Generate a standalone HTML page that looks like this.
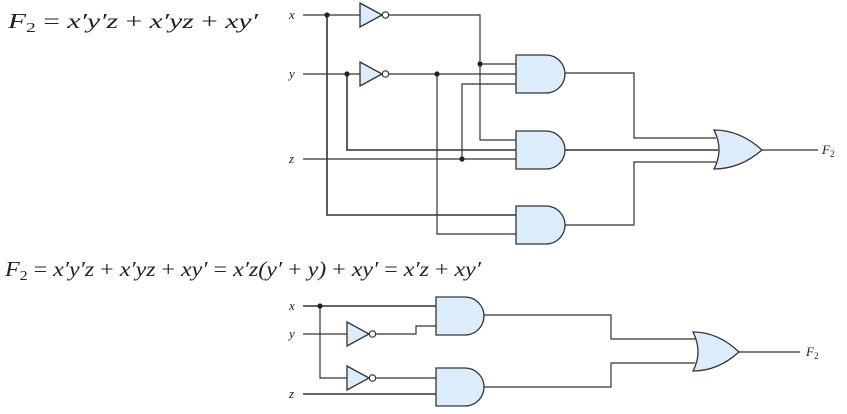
<!DOCTYPE html>
<html><head><meta charset="utf-8"><style>
html,body{margin:0;padding:0;background:#fff;}
svg{display:block;}
text{font-family:"Liberation Serif",serif;font-style:italic;fill:#222;}
</style></head><body>
<svg width="847" height="414" viewBox="0 0 847 414" xmlns="http://www.w3.org/2000/svg">
<defs>
<g id="not"><path d="M0,-12 L22,0 L0,12 Z" fill="#dcecfa" stroke="#333" stroke-width="1.3"/><circle cx="25.5" cy="0" r="3.2" fill="#fff" stroke="#333" stroke-width="1.2"/></g>
</defs>
<text x="8" y="28" font-size="21" textLength="250" lengthAdjust="spacingAndGlyphs">F<tspan font-size="14" dy="4" font-style="normal">2</tspan><tspan dy="-4" font-style="normal"> = </tspan>x′y′z <tspan font-style="normal">+</tspan> x′yz <tspan font-style="normal">+</tspan> xy′</text>
<text x="5" y="276" font-size="21" textLength="476" lengthAdjust="spacingAndGlyphs">F<tspan font-size="14" dy="4" font-style="normal">2</tspan><tspan dy="-4" font-style="normal"> = </tspan>x′y′z <tspan font-style="normal">+</tspan> x′yz <tspan font-style="normal">+</tspan> xy′ <tspan font-style="normal">=</tspan> x′z(y′ <tspan font-style="normal">+</tspan> y) <tspan font-style="normal">+</tspan> xy′ <tspan font-style="normal">=</tspan> x′z <tspan font-style="normal">+</tspan> xy′</text>

<g font-size="13">
<text x="289" y="19">x</text><text x="289" y="78">y</text><text x="289" y="163">z</text>
<text x="822" y="154">F<tspan font-size="9" dy="3" font-style="normal">2</tspan></text>
<text x="289" y="310">x</text><text x="289" y="338">y</text><text x="289" y="398">z</text>
<text x="806" y="356">F<tspan font-size="9" dy="3" font-style="normal">2</tspan></text>
</g>

<g fill="none" stroke="#333" stroke-width="1.2">
<!-- top circuit wires -->
<path d="M303,15 H360"/><path d="M389,15 H480 V140 H516"/><path d="M480,64 H516"/>
<path d="M303,74 H360"/><path d="M389,74 H516"/>
<path d="M303,159 H516"/><path d="M462,159 V84 H516"/>
<path d="M327,15 V215 H516" stroke-width="1.6"/>
<path d="M347,74 V150 H516" stroke-width="1.6"/>
<path d="M437,74 V234 H516"/>
<path d="M565,73 H634 V138 H716"/>
<path d="M565,150 H718" stroke-width="1.6"/>
<path d="M565,225 H634 V162 H716"/>
<path d="M762,150 H818"/>
<!-- bottom circuit wires -->
<path d="M303,306 H436" stroke-width="1.6"/>
<path d="M303,334 H347"/><path d="M375,334 H416 V326 H436"/>
<path d="M320,306 V378 H347"/><path d="M375,378 H436"/>
<path d="M303,394 H436" stroke-width="1.5"/>
<path d="M484,315 H611 V339 H695"/>
<path d="M484,387 H611 V363 H695"/>
<path d="M739,352 H800"/>
</g>
<g fill="#222">
<circle cx="327" cy="15" r="2.6"/><circle cx="480" cy="64" r="2.6"/><circle cx="347" cy="74" r="2.6"/>
<circle cx="437" cy="74" r="2.6"/><circle cx="462" cy="159" r="2.6"/><circle cx="320" cy="306" r="2.6"/>
</g>
<!-- inverters -->
<use href="#not" x="360" y="15"/><use href="#not" x="360" y="74"/>
<use href="#not" x="347" y="334"/><use href="#not" x="347" y="378"/>
<!-- AND gates -->
<g fill="#dcecfa" stroke="#333" stroke-width="1.3">
<path d="M516,55 H546 A19,19 0 0 1 546,93 H516 Z"/>
<path d="M516,131 H546 A19,19 0 0 1 546,169 H516 Z"/>
<path d="M516,206 H546 A19,19 0 0 1 546,244 H516 Z"/>
<path d="M436,297 H465 A19,19 0 0 1 465,335 H436 Z"/>
<path d="M436,368 H465 A19,19 0 0 1 465,406 H436 Z"/>
<!-- OR gates -->
<path d="M714,130 Q740,130 762,150 Q740,169 714,169 Q724,150 714,130 Z"/>
<path d="M693,332 Q718,332 739,352 Q718,371 693,371 Q703,352 693,332 Z"/>
</g>
</svg>
</body></html>
